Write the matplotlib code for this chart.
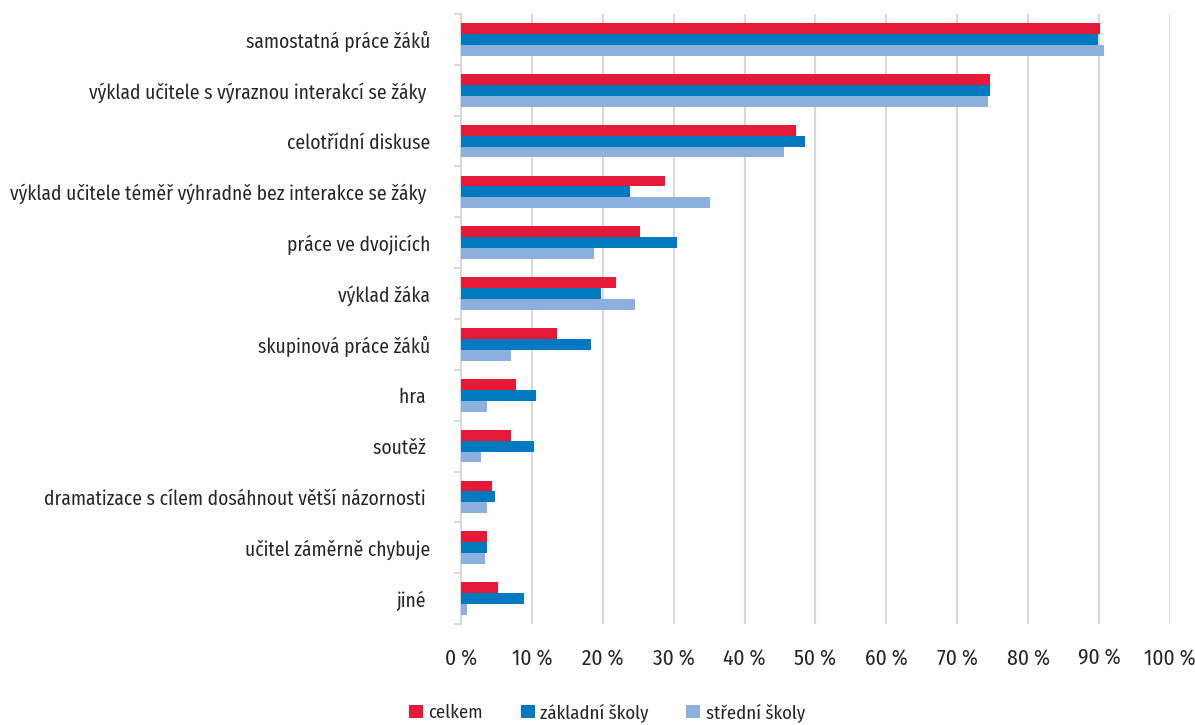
import numpy as np
import matplotlib
matplotlib.use("Agg")
import matplotlib.pyplot as plt

plt.rcParams['font.family'] = ['Fira Sans Condensed', 'Asap Condensed', 'Barlow Semi Condensed', 'DejaVu Sans']

categories = [
    "samostatná práce žáků",
    "výklad učitele s výraznou interakcí se žáky ",
    "celotřídní diskuse",
    "výklad učitele téměř výhradně bez interakce se žáky ",
    "práce ve dvojicích",
    "výklad žáka",
    "skupinová práce žáků",
    "hra ",
    "soutěž ",
    "dramatizace s cílem dosáhnout větší názornosti ",
    "učitel záměrně chybuje",
    "jiné ",
]
celkem = [90.2, 74.6, 47.3, 28.8, 25.3, 21.9, 13.5, 7.8, 7.1, 4.3, 3.7, 5.2]
zakladni = [89.9, 74.6, 48.5, 23.9, 30.5, 19.8, 18.4, 10.6, 10.3, 4.8, 3.7, 8.9]
stredni = [90.7, 74.3, 45.6, 35.1, 18.7, 24.5, 7.1, 3.7, 2.8, 3.7, 3.4, 0.8]
series_names = ["celkem", "základní školy", "střední školy"]
colors = ["#E51A38", "#0079C1", "#8BB0DD"]
xticks = list(range(0, 101, 10))

fig = plt.figure(figsize=(11.95, 7.25), dpi=100)
ax = fig.add_axes([0.3858, 0.1393, 0.5932, 0.8414])

y = np.arange(len(categories))
h = 0.214
for i, (vals, name, col) in enumerate(zip([celkem, zakladni, stredni], series_names, colors)):
    ax.barh(y + (i - 1) * h, vals, height=h, color=col, label=name, zorder=3)

ax.set_ylim(len(categories) - 0.5, -0.5)
ax.set_xlim(0, 100)

ax.set_yticks(y)
ax.set_yticklabels(categories, fontsize=14, color="#262626")
ax.set_yticks(np.arange(len(categories) + 1) - 0.5, minor=True)
ax.tick_params(axis="y", which="major", length=0, pad=22)
ax.tick_params(axis="y", which="minor", length=5, width=1.5, color="#d9d9d9")

ax.set_xticks(xticks)
ax.set_xticklabels([f"{t} %" for t in xticks], fontsize=15.5, color="#262626")
ax.tick_params(axis="x", length=0, pad=17)
ax.grid(axis="x", color="#d9d9d9", linewidth=1.5, zorder=0)

for side in ["top", "right", "bottom"]:
    ax.spines[side].set_visible(False)
ax.spines["left"].set_color("#d9d9d9")
ax.spines["left"].set_linewidth(1.5)

fig.legend(loc="lower center", bbox_to_anchor=(0.508, -0.019), ncol=3, frameon=False,
           fontsize=13.5, handlelength=0.75, handleheight=0.75, handletextpad=0.3,
           columnspacing=2.0, labelcolor="#262626")

fig.savefig("out.png", dpi=100)
